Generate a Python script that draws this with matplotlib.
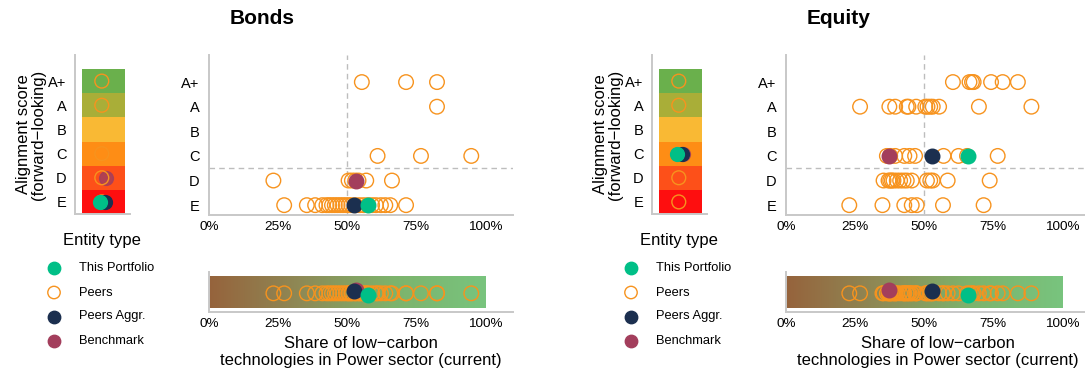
import numpy as np
import matplotlib
matplotlib.use("Agg")
import matplotlib.pyplot as plt
from matplotlib.colors import LinearSegmentedColormap

plt.rcParams["font.family"] = ["Liberation Sans", "DejaVu Sans"]

# ---- data -------------------------------------------------------------
scores = ["E", "D", "C", "B", "A", "A+"]          # bottom -> top
score_colors = ["#fe0e0f", "#fd5019", "#fe8d15", "#f9b934", "#a9ae38", "#6ab04c"]
ticks = [0, 0.25, 0.5, 0.75, 1.0]
tick_labels = ["0%", "25%", "50%", "75%", "100%"]
entity_labels = ["This Portfolio", "Peers", "Peers Aggr.", "Benchmark"]

bonds_peer_score = (["A+"] * 3 + ["A"] + ["C"] * 3 + ["D"] * 7 + ["E"] * 24)
bonds_peer_share = [0.553, 0.713, 0.825,
                    0.825,
                    0.610, 0.767, 0.949,
                    0.233, 0.505, 0.517, 0.529, 0.541, 0.569, 0.662,
                    0.272, 0.354, 0.384, 0.410, 0.425, 0.435, 0.445, 0.455,
                    0.465, 0.475, 0.485, 0.495, 0.505, 0.515, 0.530, 0.545,
                    0.560, 0.575, 0.590, 0.604, 0.622, 0.638, 0.656, 0.713]
bonds_portfolio = ("E", 0.577)
bonds_aggr = ("E", 0.523)
bonds_bench = ("D", 0.533)

equity_peer_score = (["A+"] * 7 + ["A"] * 13 + ["C"] * 10 + ["D"] * 15 + ["E"] * 7)
equity_peer_share = [0.604, 0.664, 0.673, 0.679, 0.742, 0.784, 0.839,
                     0.268, 0.374, 0.395, 0.437, 0.443, 0.471, 0.504, 0.512,
                     0.522, 0.531, 0.554, 0.698, 0.888,
                     0.365, 0.377, 0.395, 0.428, 0.447, 0.467, 0.570, 0.624,
                     0.655, 0.766,
                     0.353, 0.371, 0.377, 0.383, 0.389, 0.401, 0.413, 0.425,
                     0.437, 0.455, 0.510, 0.522, 0.531, 0.585, 0.737,
                     0.229, 0.349, 0.428, 0.455, 0.473, 0.568, 0.715]
equity_portfolio = ("C", 0.657)
equity_aggr = ("C", 0.528)
equity_bench = ("C", 0.371)

# ---- style ------------------------------------------------------------
C_PORT = "#00bf87"
C_PEER = "#f7931e"
C_AGGR = "#1b2f4f"
C_BENCH = "#a33e5c"
C_SPINE = "#c8c8c8"
C_DASH = "#bdbdbd"
MS = 110
grad = LinearSegmentedColormap.from_list("lc", ["#96633c", "#8e8a56", "#7db36c", "#78c47e"])

W, H = 1085, 376
fig = plt.figure(figsize=(W / 100, H / 100), dpi=100)


def box(l, t, r, b):
    return [l / W, 1 - b / H, (r - l) / W, (b - t) / H]


def row(s):
    return scores.index(s) + 1


def style_spines(ax):
    for side in ["top", "right"]:
        ax.spines[side].set_visible(False)
    for side in ["left", "bottom"]:
        ax.spines[side].set_color(C_SPINE)
        ax.spines[side].set_linewidth(1.4)


def draw_block(dx, title, peer_score, peer_share, port, aggr, bench):
    # score strip
    ax = fig.add_axes(box(75 + dx, 55, 130 + dx, 214))
    ax.barh(range(1, len(scores) + 1), 0.78, left=0.13, height=1.0, color=score_colors)
    peer_rows = sorted({row(s) for s in peer_score})
    ax.scatter([0.487] * len(peer_rows), peer_rows, s=MS * 0.9, facecolors="none",
               edgecolors=C_PEER, linewidths=1.0, zorder=3)
    ax.scatter([0.57], [row(bench[0])], s=MS * 0.9, color=C_BENCH, alpha=0.85, zorder=2)
    ax.scatter([0.54], [row(aggr[0])], s=MS * 0.9, color=C_AGGR, zorder=4)
    ax.scatter([0.45], [row(port[0])], s=MS * 0.9, color=C_PORT, zorder=5)
    ax.set_xlim(0, 1)
    ax.set_ylim(0.5, 7.08)
    ax.set_xticks([])
    ax.set_yticks(range(1, len(scores) + 1), scores, fontsize=10.5)
    ax.tick_params(axis="y", length=0, pad=6)
    ax.set_ylabel("Alignment score\n(forward\u2212looking)", fontsize=12, labelpad=2,
                  linespacing=0.95)
    style_spines(ax)

    # scatter
    ax = fig.add_axes(box(209 + dx, 55, 513 + dx, 215))
    ax.axvline(0.5, color=C_DASH, ls=(0, (4, 3)), lw=1.0, zorder=1)
    ax.axhline(2.5, color=C_DASH, ls=(0, (4, 3)), lw=1.0, zorder=1)
    ax.scatter(peer_share, [row(s) for s in peer_score], s=MS, facecolors="none",
               edgecolors=C_PEER, linewidths=1.0, zorder=3)
    ax.scatter([bench[1]], [row(bench[0])], s=MS, color=C_BENCH, zorder=4)
    ax.scatter([aggr[1]], [row(aggr[0])], s=MS, color=C_AGGR, zorder=5)
    ax.scatter([port[1]], [row(port[0])], s=MS, color=C_PORT, zorder=6)
    ax.set_xlim(0, 1.1)
    ax.set_ylim(0.6, 7.1)
    ax.set_xticks(ticks, tick_labels, fontsize=9.7)
    ax.set_yticks(range(1, len(scores) + 1), scores, fontsize=10.5)
    ax.tick_params(length=0, pad=4)
    ax.tick_params(axis="y", pad=7)
    style_spines(ax)
    fig.text((262 + dx) / W, 1 - 18 / H, title, ha="center", va="center",
             fontsize=15, fontweight="bold")

    # current share bar
    ax = fig.add_axes(box(209 + dx, 272, 513 + dx, 312))
    ax.imshow(np.linspace(0, 1, 256).reshape(1, -1), cmap=grad, aspect="auto",
              extent=(0, 1, 0.1, 0.9), zorder=1)
    ax.scatter(peer_share, [0.467] * len(peer_share), s=MS, facecolors="none",
               edgecolors=C_PEER, linewidths=1.0, zorder=3)
    ax.scatter([bench[1]], [0.555], s=MS, color=C_BENCH, zorder=4)
    ax.scatter([aggr[1]], [0.525], s=MS, color=C_AGGR, zorder=5)
    ax.scatter([port[1]], [0.425], s=MS, color=C_PORT, zorder=6)
    ax.set_xlim(0, 1.1)
    ax.set_ylim(0, 1)
    ax.set_yticks([])
    ax.set_xticks(ticks, tick_labels, fontsize=9.7)
    ax.tick_params(length=0, pad=4)
    ax.set_xlabel("Share of low\u2212carbon\ntechnologies in Power sector (current)",
                  fontsize=12, labelpad=5, linespacing=1.1)
    style_spines(ax)

    # legend
    lax = fig.add_axes(box(30 + dx, 228, 200 + dx, 356))
    lax.axis("off")
    lax.set_xlim(30 + dx, 200 + dx)
    lax.set_ylim(356, 228)
    lax.text(102 + dx, 240, "Entity type", ha="center", va="center", fontsize=12)
    ys = [268, 292.5, 316.5, 341]
    kinds = [dict(color=C_PORT), dict(facecolors="none", edgecolors=C_PEER, linewidths=1.0),
             dict(color=C_AGGR), dict(color=C_BENCH)]
    for lab, y, kw in zip(entity_labels, ys, kinds):
        lax.scatter([54 + dx], [y], s=80, **kw)
        lax.text(79 + dx, y, lab, ha="left", va="center", fontsize=9.3)


draw_block(0, "Bonds", bonds_peer_score, bonds_peer_share,
           bonds_portfolio, bonds_aggr, bonds_bench)
draw_block(577, "Equity", equity_peer_score, equity_peer_share,
           equity_portfolio, equity_aggr, equity_bench)

fig.savefig("out.png", dpi=100)
